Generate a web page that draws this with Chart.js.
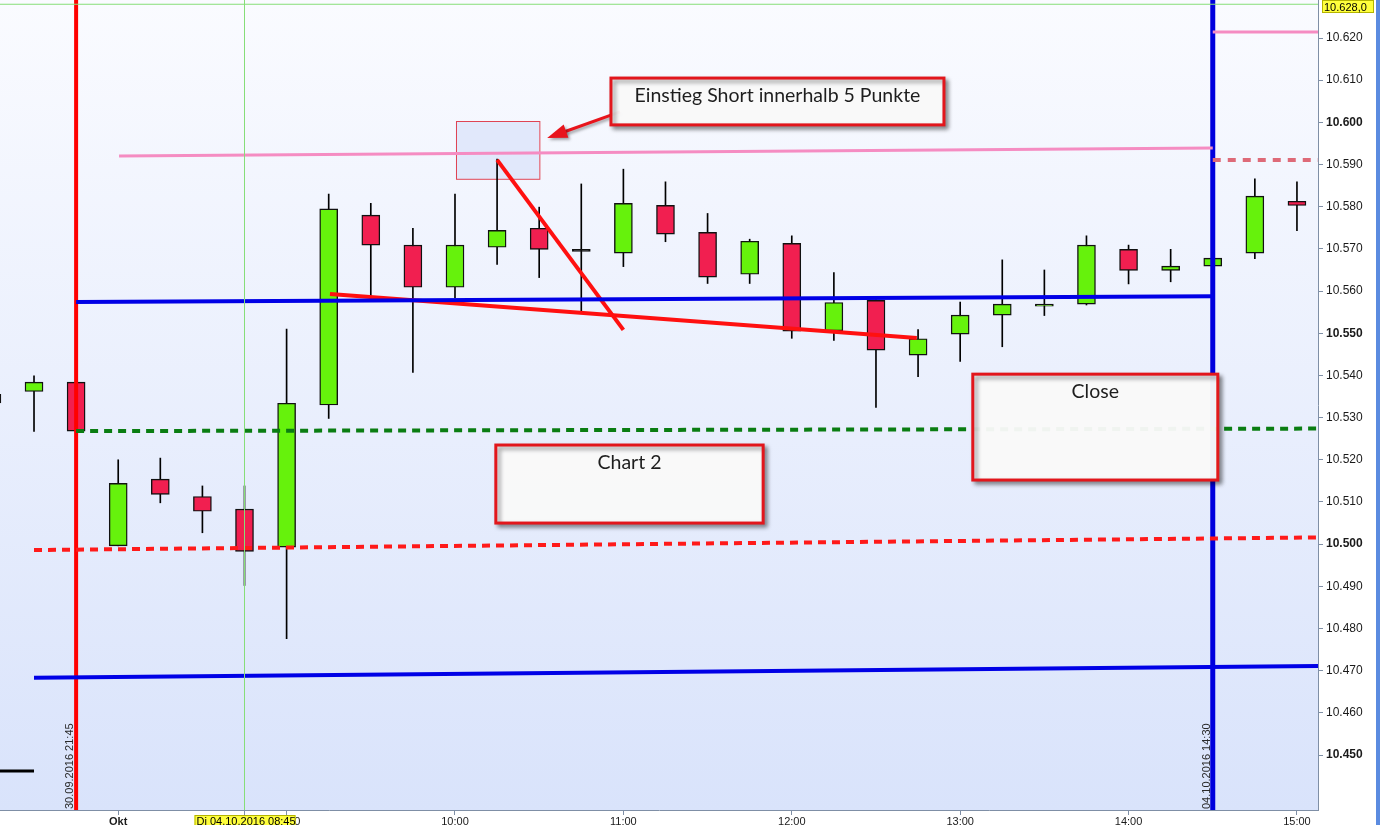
<!DOCTYPE html>
<html lang="de">
<head>
<meta charset="UTF-8">
<title>Chart 2 - FDAX 15 min</title>
<script src="https://cdn.jsdelivr.net/npm/chart.js"></script>
<style>
    body { margin: 0; background: #fff; }
    #chart { display: block; }
</style>
</head>
<body>
<canvas id="chart" width="1380" height="825"></canvas>
<script>
// 15 minute candles, 30.09.2016 evening, then 04.10.2016
const times = ['21:15', '21:30', '21:45', '08:00', '08:15', '08:30', '08:45', '09:00', '09:15', '09:30', '09:45',
    '10:00', '10:15', '10:30', '10:45', '11:00', '11:15', '11:30', '11:45', '12:00', '12:15', '12:30', '12:45',
    '13:00', '13:15', '13:30', '13:45', '14:00', '14:15', '14:30', '14:45', '15:00'];
const open  = [10.5335, 10.5362, 10.5384, 10.4996, 10.5154, 10.5113, 10.5083, 10.4993, 10.5330, 10.5780, 10.5709,
    10.5609, 10.5704, 10.5749, 10.5694, 10.5690, 10.5803, 10.5739, 10.5640, 10.5713, 10.5506, 10.5578, 10.5448,
    10.5498, 10.5543, 10.5564, 10.5569, 10.5699, 10.5649, 10.5659, 10.5690, 10.5813];
const high  = [10.5365, 10.5399, 10.5386, 10.5200, 10.5204, 10.5138, 10.5138, 10.5510, 10.5830, 10.5808, 10.5749,
    10.5830, 10.5913, 10.5799, 10.5854, 10.5889, 10.5859, 10.5784, 10.5723, 10.5731, 10.5644, 10.5580, 10.5509,
    10.5574, 10.5674, 10.5650, 10.5731, 10.5709, 10.5699, 10.5678, 10.5866, 10.5859];
const low   = [10.5330, 10.5267, 10.5266, 10.4996, 10.5098, 10.5027, 10.4902, 10.4776, 10.5298, 10.5588, 10.5407,
    10.5584, 10.5663, 10.5632, 10.5553, 10.5658, 10.5717, 10.5618, 10.5618, 10.5488, 10.5483, 10.5324, 10.5397,
    10.5433, 10.5468, 10.5542, 10.5567, 10.5617, 10.5622, 10.5659, 10.5677, 10.5743];
const close = [10.5355, 10.5384, 10.5268, 10.5144, 10.5118, 10.5078, 10.4983, 10.5334, 10.5795, 10.5709, 10.5609,
    10.5709, 10.5744, 10.5699, 10.5694, 10.5808, 10.5735, 10.5633, 10.5718, 10.5505, 10.5573, 10.5460, 10.5487,
    10.5543, 10.5569, 10.5569, 10.5709, 10.5649, 10.5659, 10.5678, 10.5825, 10.5803];

// axis labels
const xTickIdx = [3, 6, 7, 11, 15, 19, 23, 27, 31];
const xTickText = ['Okt', '', '09:00', '10:00', '11:00', '12:00', '13:00', '14:00', '15:00'];
const yTickValues = [10.45, 10.46, 10.47, 10.48, 10.49, 10.50, 10.51, 10.52, 10.53, 10.54, 10.55,
    10.56, 10.57, 10.58, 10.59, 10.60, 10.61, 10.62];
const cursorPrice = 10.628;
const cursorIdx = 6;

// hand drawn lines on the chart (candle index, price)
const pinkTop = [[3.02, 10.5920], [29, 10.5939]];
const pinkHigh = [[29, 10.6214], [31.6, 10.6214]];
const pinkDash = [[29, 10.5911], [31.6, 10.5911]];
const blueUpper = [[2, 10.5574], [29, 10.5588]];
const blueLower = [[1, 10.4683], [31.6, 10.4711]];
const greenDash = [[2, 10.5268], [31.6, 10.5274]];
const redDash = [[1, 10.4986], [31.6, 10.5016]];
const redTrend = [[8.03, 10.5593], [21.97, 10.5489]];
const redDown = [[12, 10.5911], [15.0, 10.5508]];
const blackMark = [[0.1, 10.4462], [1.0, 10.4462]];
const redVertical = 2;
const blueVertical = 29;

const GREEN = '#66f20c';
const RED = '#f11f50';

const bodyColors = open.map((o, i) => close[i] > o ? GREEN : (close[i] < o ? RED : '#111'));

function lineSet(points, color, width, dash) {
    return {
        type: 'line',
        data: points.map(p => ({ x: p[0], y: p[1] })),
        borderColor: color,
        borderWidth: width,
        borderDash: dash || [],
        pointRadius: 0,
        tension: 0,
        fill: false,
        order: 0
    };
}

const Y_MIN = 10.43697, Y_MAX = 10.62901;

const lineSets = [
    lineSet([[cursorIdx, Y_MIN], [cursorIdx, Y_MAX]], '#86de78', 1),
    lineSet([[0, cursorPrice], [32, cursorPrice]], '#86de78', 1),
    lineSet(greenDash, '#0a7d12', 4, [8, 6]),
    lineSet(redDash, '#ff1a1a', 4, [8, 6]),
    lineSet(pinkDash, '#de6a78', 4, [8, 7]),
    lineSet(pinkTop, '#f58cc2', 3),
    lineSet(pinkHigh, '#f58cc2', 3),
    lineSet(blueUpper, '#0000e6', 4),
    lineSet(blueLower, '#0000e6', 4),
    lineSet(redTrend, '#ff1010', 4),
    lineSet(redDown, '#ff1010', 4),
    lineSet(blackMark, '#000', 3),
    lineSet([[redVertical, Y_MIN - 0.01], [redVertical, Y_MAX + 0.01]], '#ff0000', 4),
    lineSet([[blueVertical, Y_MIN - 0.01], [blueVertical, Y_MAX + 0.01]], '#0000dd', 5)
];

const wickSet = {
    type: 'bar',
    data: times.map((t, i) => ({ x: i, y: [low[i], high[i]] })),
    backgroundColor: '#000',
    barThickness: 1,
    grouped: false,
    order: 2
};

const bodySet = {
    type: 'bar',
    data: times.map((t, i) => ({ x: i, y: [open[i], close[i]] })),
    backgroundColor: bodyColors,
    borderColor: '#111',
    borderWidth: 1.4,
    borderSkipped: false,
    barThickness: 18,
    minBarLength: 2,
    grouped: false,
    order: 1
};

// plot background and the light blue zone
const backgroundPlugin = {
    id: 'background',
    beforeDraw(chart) {
        const { ctx, chartArea: a } = chart;
        const g = ctx.createLinearGradient(0, a.top, 0, a.bottom);
        g.addColorStop(0, '#fafbff');
        g.addColorStop(1, '#d9e3fb');
        ctx.save();
        ctx.fillStyle = g;
        ctx.fillRect(a.left, a.top, a.right - a.left, a.bottom - a.top);
        ctx.restore();
    },
    beforeDatasetsDraw(chart) {
        const { ctx, scales: { x, y } } = chart;
        const l = x.getPixelForValue(11.02), r = x.getPixelForValue(13.0);
        const t = y.getPixelForValue(10.6003), b = y.getPixelForValue(10.5866);
        ctx.save();
        ctx.fillStyle = '#e1e8fb';
        ctx.fillRect(l, t, r - l, b - t);
        ctx.strokeStyle = '#df4454';
        ctx.lineWidth = 1;
        ctx.strokeRect(Math.round(l) + 0.5, Math.round(t) + 0.5, r - l, b - t);
        ctx.restore();
    }
};

function noteBox(chart, x0, y0, x1, y1, text) {
    const { ctx, scales: { x, y } } = chart;
    const l = x.getPixelForValue(x0), r = x.getPixelForValue(x1);
    const t = y.getPixelForValue(y0), b = y.getPixelForValue(y1);
    ctx.save();
    ctx.shadowColor = 'rgba(0,0,0,0.4)';
    ctx.shadowOffsetX = 3;
    ctx.shadowOffsetY = 3;
    ctx.shadowBlur = 4;
    ctx.fillStyle = 'rgba(255,255,255,0.94)';
    ctx.fillRect(l, t, r - l, b - t);
    ctx.strokeStyle = '#e2161c';
    ctx.lineWidth = 3;
    ctx.strokeRect(l, t, r - l, b - t);
    ctx.shadowColor = 'transparent';
    ctx.fillStyle = '#1e1e1e';
    ctx.font = '19.5px Lato';
    ctx.textAlign = 'center';
    ctx.textBaseline = 'middle';
    ctx.fillText(text, (l + r) / 2, t + 18);
    ctx.restore();
}

const notesPlugin = {
    id: 'notes',
    afterDraw(chart) {
        const { ctx, chartArea: a, scales: { x, y } } = chart;

        // arrow pointing to the entry zone
        const x1 = x.getPixelForValue(14.92), y1 = y.getPixelForValue(10.6025);
        const x2 = x.getPixelForValue(13.19), y2 = y.getPixelForValue(10.5963);
        const ang = Math.atan2(y2 - y1, x2 - x1);
        ctx.save();
        ctx.shadowColor = 'rgba(0,0,0,0.35)';
        ctx.shadowOffsetX = 2;
        ctx.shadowOffsetY = 2;
        ctx.shadowBlur = 3;
        ctx.strokeStyle = '#e8141c';
        ctx.fillStyle = '#e8141c';
        ctx.lineWidth = 3;
        ctx.beginPath();
        ctx.moveTo(x1, y1);
        ctx.lineTo(x2 - 14 * Math.cos(ang), y2 - 14 * Math.sin(ang));
        ctx.stroke();
        ctx.beginPath();
        ctx.moveTo(x2, y2);
        ctx.lineTo(x2 - 20 * Math.cos(ang) + 7 * Math.sin(ang), y2 - 20 * Math.sin(ang) - 7 * Math.cos(ang));
        ctx.lineTo(x2 - 20 * Math.cos(ang) - 7 * Math.sin(ang), y2 - 20 * Math.sin(ang) + 7 * Math.cos(ang));
        ctx.closePath();
        ctx.fill();
        ctx.restore();

        noteBox(chart, 14.705, 10.6105, 22.615, 10.5994, 'Einstieg Short innerhalb 5 Punkte');
        noteBox(chart, 11.97, 10.5235, 18.32, 10.5050, 'Chart 2');
        noteBox(chart, 23.30, 10.5403, 29.12, 10.5152, 'Close');

        // vertical date labels beside the marker lines
        ctx.save();
        ctx.fillStyle = '#2a2a2a';
        ctx.font = '11px "Liberation Sans", Arial';
        ctx.textAlign = 'left';
        ctx.textBaseline = 'alphabetic';
        [[redVertical, '30.09.2016 21:45'], [blueVertical, '04.10.2016 14:30']].forEach(([idx, label]) => {
            ctx.save();
            ctx.translate(x.getPixelForValue(idx) - 3, a.bottom - 1);
            ctx.rotate(-Math.PI / 2);
            ctx.fillText(label, 0, 0);
            ctx.restore();
        });
        ctx.restore();

        // crosshair value boxes
        ctx.save();
        ctx.font = '11px "Liberation Sans", Arial';
        ctx.textBaseline = 'alphabetic';
        const cy = y.getPixelForValue(cursorPrice);
        ctx.fillStyle = '#ffff3c';
        ctx.fillRect(a.right + 4, Math.max(0, cy - 5), 52, 13);
        ctx.strokeStyle = '#b4b400';
        ctx.lineWidth = 1;
        ctx.strokeRect(a.right + 4.5, Math.max(0.5, cy - 4.5), 51, 12);
        ctx.fillStyle = '#000';
        ctx.textAlign = 'left';
        ctx.fillText(cursorPrice.toFixed(3) + ',0', a.right + 6, Math.max(11, cy + 6));

        const cx = x.getPixelForValue(cursorIdx);
        ctx.fillStyle = '#ffff3c';
        ctx.fillRect(cx - 50, a.bottom + 5, 101, 12);
        ctx.strokeStyle = '#b4b400';
        ctx.strokeRect(cx - 49.5, a.bottom + 5.5, 100, 12);
        ctx.fillStyle = '#000';
        ctx.fillText('Di 04.10.2016 08:45', cx - 48, a.bottom + 15);
        ctx.restore();

        // window frame on the right edge
        ctx.save();
        ctx.fillStyle = '#5b8be0';
        ctx.fillRect(chart.width - 4, 0, 4, chart.height);
        ctx.restore();
    }
};

function noPadding(s) {
    s.paddingTop = 0;
    s.paddingBottom = 0;
    s.paddingLeft = 0;
    s.paddingRight = 0;
}

new Chart(document.getElementById('chart'), {
    type: 'bar',
    data: { datasets: [...lineSets, bodySet, wickSet] },
    options: {
        responsive: false,
        animation: false,
        layout: { padding: 0 },
        plugins: { legend: { display: false }, tooltip: { enabled: false } },
        scales: {
            x: {
                type: 'linear',
                min: 0.192,
                max: 31.5,
                offset: false,
                grid: { drawOnChartArea: false, offset: false, color: '#7f8fa6', tickLength: 5 },
                border: { color: '#7f8fa6' },
                ticks: {
                    autoSkip: false,
                    maxRotation: 0,
                    padding: 0,
                    color: '#1a1a1a',
                    font: c => ({ family: '"Liberation Sans", Arial', size: 11, weight: c.tick && c.tick.value === 3 ? 'bold' : 'normal' }),
                    callback: v => xTickText[xTickIdx.indexOf(v)]
                },
                afterBuildTicks: s => { s.ticks = xTickIdx.map(v => ({ value: v })); },
                afterFit: s => { s.height = 15; noPadding(s); }
            },
            y: {
                position: 'right',
                min: Y_MIN,
                max: Y_MAX,
                grid: { drawOnChartArea: false, color: '#7f8fa6', tickLength: 5 },
                border: { color: '#7f8fa6' },
                ticks: {
                    padding: 3,
                    color: '#1a1a1a',
                    font: c => ({ family: '"Liberation Sans", Arial', size: 12, weight: c.tick && Math.round(c.tick.value * 1000) % 50 === 0 ? 'bold' : 'normal' }),
                    callback: v => v.toFixed(3)
                },
                afterBuildTicks: s => { s.ticks = yTickValues.map(v => ({ value: v })); },
                afterFit: s => { s.width = 62; noPadding(s); }
            }
        }
    },
    plugins: [backgroundPlugin, notesPlugin]
});
</script>
</body>
</html>
